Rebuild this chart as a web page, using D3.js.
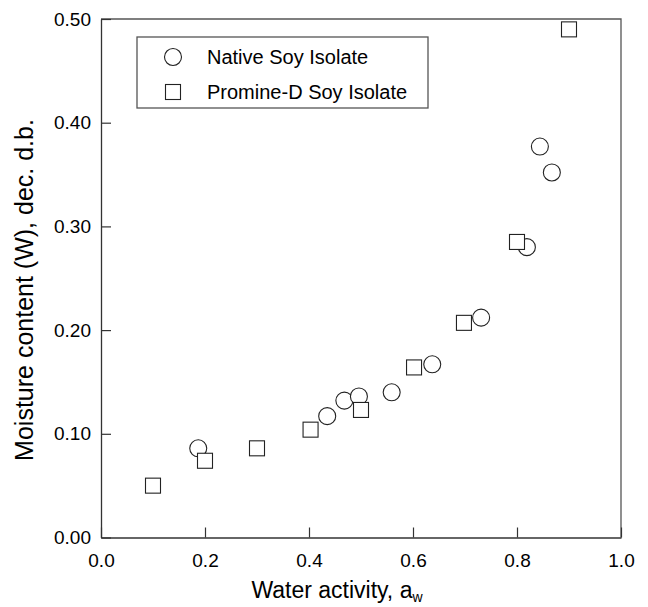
<!DOCTYPE html>
<html lang="en">
    <head>
        <meta charset="utf-8">
        <title>Moisture sorption</title>
        <script type="text/javascript" src="https://cdn.jsdelivr.net/npm/d3@7"></script>
        <style>
            body { margin: 0; background: #fff; }
            text { font-family: Arial, "Liberation Sans", sans-serif; fill: #000; }
        </style>
    </head>
    <body>
        <script type="text/javascript">
            // data
            var nativeX = [0.187, 0.435, 0.468, 0.496, 0.559, 0.637, 0.731, 0.819, 0.844, 0.867];
            var nativeY = [0.086, 0.117, 0.132, 0.136, 0.140, 0.167, 0.212, 0.280, 0.377, 0.352];
            var promineX = [0.10, 0.20, 0.30, 0.403, 0.50, 0.602, 0.698, 0.80, 0.90];
            var promineY = [0.050, 0.074, 0.086, 0.104, 0.123, 0.164, 0.207, 0.285, 0.490];
            var xTicks = [0, 0.2, 0.4, 0.6, 0.8, 1.0];
            var yTicks = [0, 0.1, 0.2, 0.3, 0.4, 0.5];
            var seriesNames = ["Native Soy Isolate", "Promine-D Soy Isolate"];

            var w = 648, h = 607;
            var plotL = 101, plotR = 621, plotT = 19, plotB = 537.5;

            var svg = d3.select("body").append("svg").attr("width", w).attr("height", h);

            var x = d3.scaleLinear().domain([0, 1]).range([plotL, plotR]);
            var y = d3.scaleLinear().domain([0, 0.5]).range([plotB, plotT]);

            // frame (top and right)
            svg.append("path")
                .attr("d", "M" + plotL + "," + plotT + "H" + plotR + "V" + plotB)
                .attr("fill", "none")
                .attr("stroke", "#555")
                .attr("stroke-width", 1.3);

            var xAxis = svg.append("g")
                .attr("transform", "translate(0," + plotB + ")")
                .call(d3.axisBottom(x).tickValues(xTicks).tickFormat(d3.format(".1f"))
                    .tickSizeInner(-10).tickSizeOuter(0).tickPadding(16));
            var yAxis = svg.append("g")
                .attr("transform", "translate(" + plotL + ",0)")
                .call(d3.axisLeft(y).tickValues(yTicks).tickFormat(d3.format(".2f"))
                    .tickSizeInner(-10).tickSizeOuter(0).tickPadding(10));

            [xAxis, yAxis].forEach(function(g) {
                g.attr("font-size", null).attr("font-family", null);
                g.select(".domain").attr("stroke", "#333").attr("stroke-width", 1.3);
                g.selectAll(".tick line").attr("stroke", "#333").attr("stroke-width", 1.2);
                g.selectAll(".tick text")
                    .style("font-size", "19px")
                    .attr("fill", "#000");
            });

            // axis titles
            var xt = svg.append("text")
                .attr("x", (plotL + plotR) / 2 - 24)
                .attr("y", 598)
                .attr("text-anchor", "middle")
                .style("font-size", "23px");
            xt.append("tspan").text("Water activity, a");
            xt.append("tspan").style("font-size", "14px").attr("dy", 4).text("w");

            svg.append("text")
                .attr("transform", "translate(33," + 290 + ") rotate(-90)")
                .attr("text-anchor", "middle")
                .style("font-size", "25px")
                .text("Moisture content (W), dec. d.b.");

            // points: circles first, squares on top
            svg.selectAll("circle.native")
                .data(d3.range(nativeX.length))
                .enter()
                .append("circle")
                .attr("class", "native")
                .attr("cx", function(i) { return x(nativeX[i]); })
                .attr("cy", function(i) { return y(nativeY[i]); })
                .attr("r", 8.5)
                .attr("fill", "#fff")
                .attr("stroke", "#222")
                .attr("stroke-width", 1.1);

            var sq = 15;
            svg.selectAll("rect.promine")
                .data(d3.range(promineX.length))
                .enter()
                .append("rect")
                .attr("class", "promine")
                .attr("x", function(i) { return x(promineX[i]) - sq / 2; })
                .attr("y", function(i) { return y(promineY[i]) - sq / 2; })
                .attr("width", sq)
                .attr("height", sq)
                .attr("fill", "#fff")
                .attr("stroke", "#222")
                .attr("stroke-width", 1.1);

            // legend
            var lg = svg.append("g");
            lg.append("rect")
                .attr("x", 137).attr("y", 37)
                .attr("width", 291).attr("height", 71)
                .attr("fill", "#fff")
                .attr("stroke", "#555")
                .attr("stroke-width", 1.3);
            lg.append("circle")
                .attr("cx", 173).attr("cy", 57).attr("r", 8.5)
                .attr("fill", "#fff").attr("stroke", "#222").attr("stroke-width", 1.1);
            lg.append("rect")
                .attr("x", 173 - sq / 2).attr("y", 92 - sq / 2)
                .attr("width", sq).attr("height", sq)
                .attr("fill", "#fff").attr("stroke", "#222").attr("stroke-width", 1.1);
            lg.selectAll("text.lab")
                .data(seriesNames)
                .enter()
                .append("text")
                .attr("class", "lab")
                .attr("x", 207)
                .attr("y", function(d, i) { return 64 + i * 35; })
                .style("font-size", "20px")
                .text(function(d) { return d; });
        </script>
    </body>
</html>
